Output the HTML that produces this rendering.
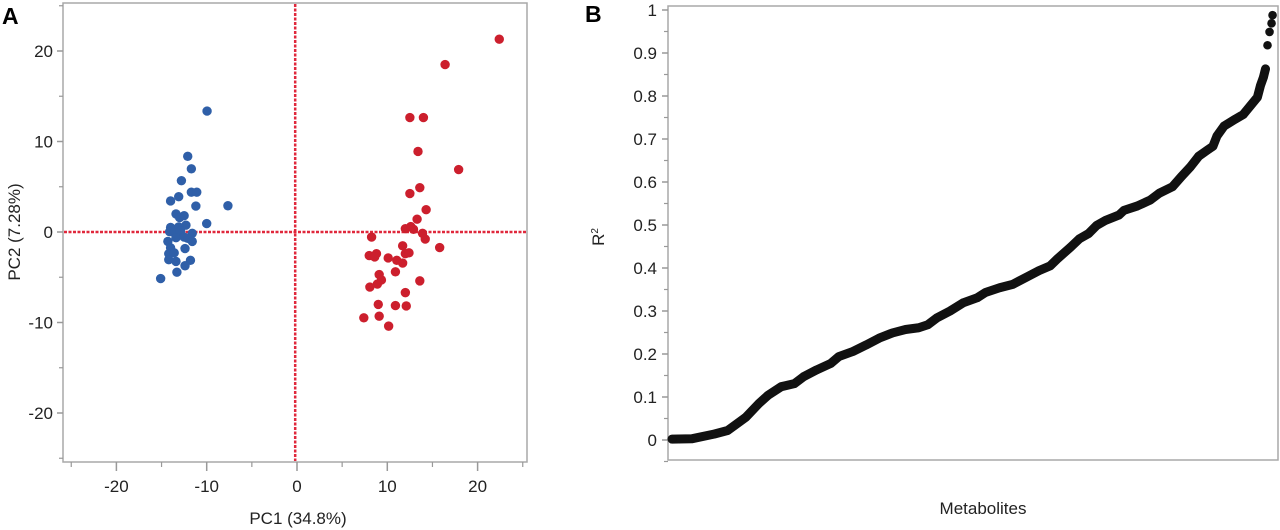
<!DOCTYPE html>
<html><head><meta charset="utf-8"><style>
html,body{margin:0;padding:0;background:#fff;}
svg{display:block;font-family:"Liberation Sans",sans-serif;}
</style></head><body>
<svg id="fig" width="1280" height="530" viewBox="0 0 1280 530">
<text x="2" y="24" font-size="23" font-weight="bold">A</text>
<text x="585" y="22" font-size="23" font-weight="bold">B</text>
<g id="pa"></g>
<g id="pb"></g>
<text x="298" y="524" font-size="17" text-anchor="middle" fill="#222">PC1 (34.8%)</text>
<text transform="translate(20,232) rotate(-90)" font-size="17" text-anchor="middle" fill="#222">PC2 (7.28%)</text>
<text transform="translate(604,237) rotate(-90)" font-size="17" text-anchor="middle" fill="#222">R<tspan font-size="10" dy="-6">2</tspan></text>
<text x="983" y="514" font-size="17" text-anchor="middle" fill="#222">Metabolites</text>
</svg>
<script>
// Panel A data
const blueX = [-9.96,-12.1,-11.7,-12.8,-11.7,-11.1,-14.0,-13.1,-11.2,-7.65,-13.4,-12.5,-13.0,-10.0,-12.3,-14.0,-13.1,-14.1,-13.6,-11.6,-12.9,-14.3,-13.4,-12.5,-12.1,-11.6,-14.0,-12.4,-14.2,-13.6,-14.2,-13.4,-11.8,-12.4,-13.3,-15.1];
const blueY = [13.36,8.36,6.98,5.67,4.4,4.4,3.43,3.9,2.87,2.9,2.0,1.8,1.6,0.93,0.75,0.5,0.56,0.04,-0.07,-0.15,0.1,-1.04,-0.63,-0.56,-0.7,-1.04,-1.75,-1.83,-2.4,-2.3,-3.06,-3.25,-3.13,-3.73,-4.44,-5.15];
const redX = [22.4,16.4,12.5,14.0,13.4,17.9,13.6,12.5,14.3,13.3,12.0,12.6,12.9,13.9,14.2,8.26,11.7,15.8,8.0,8.8,8.6,10.1,11.05,12.0,12.4,11.7,9.1,10.9,9.35,8.9,13.6,8.07,12.0,9.0,10.9,12.1,7.4,9.1,10.15];
const redY = [21.3,18.5,12.65,12.65,8.9,6.9,4.9,4.25,2.46,1.42,0.37,0.6,0.3,-0.15,-0.78,-0.56,-1.53,-1.72,-2.6,-2.4,-2.76,-2.87,-3.13,-2.4,-2.3,-3.43,-4.7,-4.4,-5.3,-5.75,-5.4,-6.08,-6.7,-8.0,-8.13,-8.17,-9.48,-9.3,-10.4];
const aTicks = [-20,-10,0,10,20];
const aMinor = [-25,-15,-5,5,15,25];
// Panel B data
const rank = [3,23,45,58,65,76,89,98,111,124,133,146,160,168,182,195,208,221,234,247,256,265,278,291,305,313,327,340,353,366,377,384,397,406,415,423,432,445,450,463,476,485,498,507,516,524,533,538,542,549,560,568,575,582,585,588,590,592,594,596,597];
const r2 = [0.002,0.003,0.014,0.022,0.034,0.053,0.085,0.104,0.124,0.131,0.147,0.163,0.178,0.194,0.206,0.221,0.237,0.249,0.257,0.261,0.268,0.284,0.300,0.319,0.331,0.343,0.354,0.362,0.378,0.394,0.405,0.421,0.448,0.468,0.48,0.499,0.511,0.523,0.534,0.544,0.558,0.574,0.589,0.613,0.636,0.66,0.675,0.683,0.707,0.73,0.746,0.757,0.777,0.797,0.824,0.844,0.863,0.918,0.949,0.969,0.988];
const bTicks = [0,0.1,0.2,0.3,0.4,0.5,0.6,0.7,0.8,0.9,1];
const bTickLabels = ["0","0.1","0.2","0.3","0.4","0.5","0.6","0.7","0.8","0.9","1"];

const NS="http://www.w3.org/2000/svg";
function mk(p,t,a){const e=document.createElementNS(NS,t);for(const k in a)e.setAttribute(k,a[k]);p.appendChild(e);return e;}
// Panel A scales
const ax = v => 297 + v*9.03;
const ay = v => 232 - v*9.05;
const pa=document.getElementById('pa');
let fr=mk(pa,'rect',{x:63,y:3,width:464,height:459,fill:'none',stroke:'#a8a8a8','stroke-width':1.5});


aTicks.forEach(t=>{
  let l=mk(pa,'line',{x1:ax(t),x2:ax(t),y1:462,y2:471,stroke:'#999','stroke-width':1.5});
  
  
  let tx=mk(pa,'text',{x:ax(t),y:492,'font-size':17,'text-anchor':'middle',fill:'#222'});tx.textContent=t;
  
  
  let l2=mk(pa,'line',{x1:57,x2:63,y1:ay(t),y2:ay(t),stroke:'#999','stroke-width':1.5});
  
  
  let ty=mk(pa,'text',{x:53,y:ay(t)+6,'font-size':17,'text-anchor':'end',fill:'#222'});ty.textContent=t;
  
  
});
aMinor.forEach(t=>{
  let l=mk(pa,'line',{x1:ax(t),x2:ax(t),y1:462,y2:467,stroke:'#999','stroke-width':1.2});
  
  
  let l2=mk(pa,'line',{x1:59,x2:63,y1:ay(t),y2:ay(t),stroke:'#999','stroke-width':1.2});
  
  
});
let hz=mk(pa,'line',{x1:64,x2:526,y1:ay(0),y2:ay(0),stroke:'#e0283c','stroke-width':2.5,'stroke-dasharray':'3 1.5'});


let vt=mk(pa,'line',{x1:ax(-0.2),x2:ax(-0.2),y1:4,y2:461,stroke:'#e0283c','stroke-width':2.5,'stroke-dasharray':'3 1.5'});


blueX.forEach((x,i)=>{
  let c=mk(pa,'circle',{cx:ax(x),cy:ay(blueY[i]),r:4.7,fill:'#2f5fa8'});
  
  
});
redX.forEach((x,i)=>{
  let c=mk(pa,'circle',{cx:ax(x),cy:ay(redY[i]),r:4.7,fill:'#cc1f2d'});
  
  
});
// Panel B scales
const bx = v => 669 + v*1.011;
const by = v => 440 - v*430;
const pb=document.getElementById('pb');
let fb=mk(pb,'rect',{x:668,y:6,width:610,height:454,fill:'none',stroke:'#a8a8a8','stroke-width':1.5});


bTicks.forEach((t,i)=>{
  let l=mk(pb,'line',{x1:662,x2:668,y1:by(t),y2:by(t),stroke:'#999','stroke-width':1.5});
  
  
  let tx=mk(pb,'text',{x:657,y:by(t)+6,'font-size':17,'text-anchor':'end',fill:'#222'});tx.textContent=bTickLabels[i];
  
  
  if(i<bTicks.length-1){
    let m=mk(pb,'line',{x1:664,x2:668,y1:by(t+0.05),y2:by(t+0.05),stroke:'#999','stroke-width':1.2});
    
    
  }
});
let m0=mk(pb,'line',{x1:664,x2:668,y1:by(-0.05),y2:by(-0.05),stroke:'#999','stroke-width':1.2});


const nLine = rank.length-4;
let pts=[];for(let i=0;i<nLine;i++)pts.push(bx(rank[i])+','+by(r2[i]));
let pl=mk(pb,'polyline',{points:pts.join(' '),fill:'none',stroke:'#111','stroke-width':9,'stroke-linejoin':'round','stroke-linecap':'round'});


rank.forEach((x,i)=>{
  let c=mk(pb,'circle',{cx:bx(x),cy:by(r2[i]),r:4.3,fill:'#111'});
  
  
});
</script>
</body></html>
